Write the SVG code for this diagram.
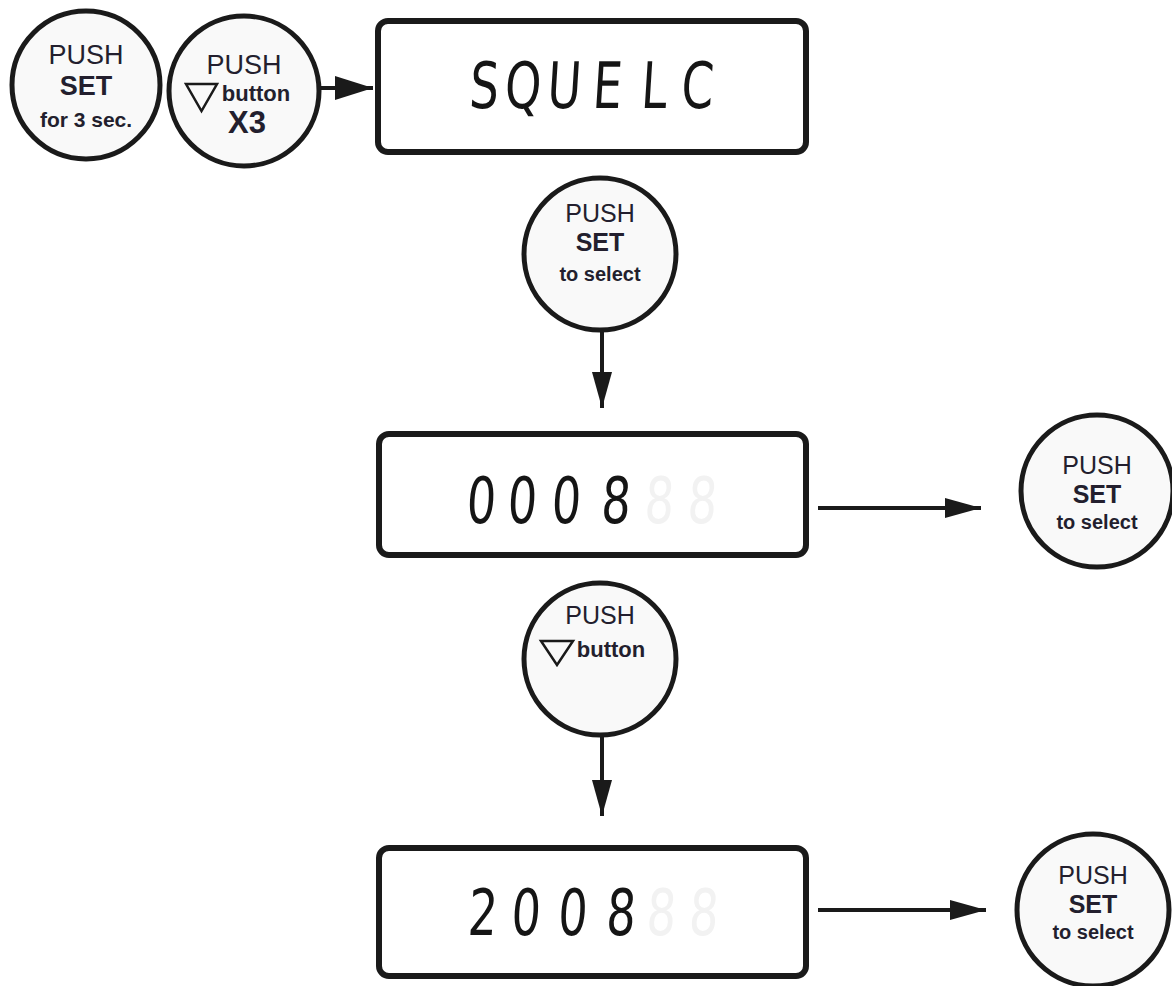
<svg xmlns="http://www.w3.org/2000/svg" width="1172" height="986" viewBox="0 0 1172 986">
<style>
.btn{fill:#f9f9f9;stroke:#1a1a1a;stroke-width:5}
.lcd{fill:#ffffff;stroke:#1a1a1a;stroke-width:6}
.t{font-family:"Liberation Sans","Open Sans",sans-serif;fill:#231f2e;text-anchor:middle}
.push{font-size:25px}
.set{font-size:25px;font-weight:bold}
.sub{font-size:20px;font-weight:bold}
.seg{font-family:"DejaVu Sans","Liberation Sans",sans-serif;font-size:64px;fill:#151515;text-anchor:middle}
.segoff{font-family:"DejaVu Sans","Liberation Sans",sans-serif;font-size:64px;fill:#f2f2f2;text-anchor:middle}
.tri{fill:none;stroke:#1a1a1a;stroke-width:2.5;stroke-linejoin:miter}
.conn{stroke:#1a1a1a;stroke-width:4;fill:none}
</style>
<defs>
<marker id="ah" markerUnits="userSpaceOnUse" markerWidth="36" markerHeight="20" refX="36" refY="10" orient="auto"><path d="M0,0 L36,10 L0,20 Z" fill="#1a1a1a"/></marker>
<marker id="ahb" markerUnits="userSpaceOnUse" markerWidth="38" markerHeight="24" refX="38" refY="12" orient="auto"><path d="M0,0 L38,12 L0,24 Z" fill="#1a1a1a"/></marker>
</defs>

<g id="connectors">
<line class="conn" x1="320" y1="88" x2="373" y2="88" stroke-width="7" marker-end="url(#ahb)"/>
<line class="conn" x1="602" y1="331" x2="602" y2="408" marker-end="url(#ah)"/>
<line class="conn" x1="818" y1="508" x2="981" y2="508" marker-end="url(#ah)"/>
<line class="conn" x1="602" y1="736" x2="602" y2="816" marker-end="url(#ah)"/>
<line class="conn" x1="818" y1="910" x2="986" y2="910" marker-end="url(#ah)"/>
</g>

<g id="push-set-3sec">
<circle class="btn" cx="86" cy="85" r="74"/>
<text class="t push" x="86" y="64" style="font-size:27px">PUSH</text>
<text class="t set" x="86" y="95" style="font-size:27px">SET</text>
<text class="t sub" x="86" y="127" style="font-size:21px">for 3 sec.</text>
</g>

<g id="push-down-x3">
<circle class="btn" cx="244" cy="91" r="75"/>
<text class="t push" x="244" y="74" style="font-size:27px">PUSH</text>
<path class="tri" d="M186,84 L217,84 L201.5,111 Z"/>
<text class="t" x="256" y="101" style="font-size:22px;font-weight:bold">button</text>
<text class="t" x="247" y="133" style="font-size:31px;font-weight:bold">X3</text>
</g>

<g id="lcd-squelc">
<rect class="lcd" x="378" y="21" width="428" height="131" rx="10"/>
<text class="seg" transform="translate(0,108) scale(0.72,1) skewX(-5)" x="671 725 782 842 907 967" y="0">SQUELC</text>
</g>

<g id="push-set-select-1">
<circle class="btn" cx="600" cy="254" r="76"/>
<text class="t push" x="600" y="222">PUSH</text>
<text class="t set" x="600" y="251">SET</text>
<text class="t sub" x="600" y="281">to select</text>
</g>

<g id="lcd-0008">
<rect class="lcd" x="379" y="434" width="427" height="121" rx="10"/>
<text class="seg" transform="translate(0,523) scale(0.72,1) skewX(-5)" x="667 724 785 854" y="0">0008</text>
<text class="segoff" transform="translate(0,523) scale(0.72,1) skewX(-5)" x="914 974" y="0">88</text>
</g>

<g id="push-set-select-2">
<circle class="btn" cx="1097" cy="491" r="76"/>
<text class="t push" x="1097" y="474">PUSH</text>
<text class="t set" x="1097" y="503">SET</text>
<text class="t sub" x="1097" y="529">to select</text>
</g>

<g id="push-down">
<circle class="btn" cx="600" cy="659" r="76"/>
<text class="t push" x="600" y="624">PUSH</text>
<path class="tri" d="M541,641 L573,641 L557,665 Z"/>
<text class="t" x="611" y="657" style="font-size:22px;font-weight:bold">button</text>
</g>

<g id="lcd-2008">
<rect class="lcd" x="379" y="848" width="427" height="128" rx="10"/>
<text class="seg" transform="translate(0,935) scale(0.72,1) skewX(-5)" x="669 729 794 861" y="0">2008</text>
<text class="segoff" transform="translate(0,935) scale(0.72,1) skewX(-5)" x="917 976" y="0">88</text>
</g>

<g id="push-set-select-3">
<circle class="btn" cx="1093" cy="910" r="76"/>
<text class="t push" x="1093" y="884">PUSH</text>
<text class="t set" x="1093" y="913">SET</text>
<text class="t sub" x="1093" y="939">to select</text>
</g>
</svg>
